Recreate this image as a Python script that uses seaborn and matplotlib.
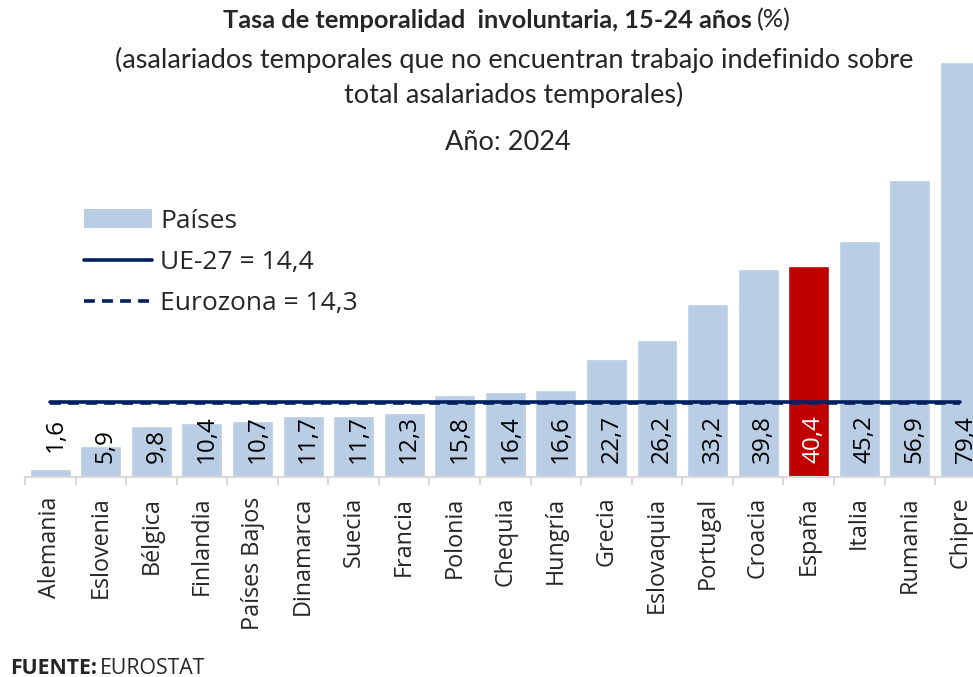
import matplotlib
matplotlib.use('Agg')
import matplotlib.pyplot as plt
from matplotlib.patches import Patch
from matplotlib.lines import Line2D
import seaborn as sns
import pandas as pd

#---------------------------------------------------------
paises=['Alemania', 'Eslovenia', 'Bélgica', 'Finlandia', 'Países Bajos', 'Dinamarca',
	'Suecia', 'Francia', 'Polonia', 'Chequia', 'Hungría', 'Grecia', 'Eslovaquia',
	'Portugal', 'Croacia', 'España', 'Italia', 'Rumania', 'Chipre']
valores=[1.6, 5.9, 9.8, 10.4, 10.7, 11.7, 11.7, 12.3, 15.8, 16.4, 16.6, 22.7, 26.2,
	33.2, 39.8, 40.4, 45.2, 56.9, 79.4]
ue27=14.4
eurozona=14.3
destacado='España'

c_bar='#B9CDE5'
c_esp='#C00000'
c_line='#002060'
c_axis='#D9D9D9'
f_lbl='Open Sans'
f_tit='Lato'

#--------------------------------------------------------
df=pd.DataFrame({'pais': paises, 'valor': valores})
pal={p: (c_esp if p==destacado else c_bar) for p in paises}

sns.set_style('white')
plt.rcParams['font.family']=[f_lbl, 'DejaVu Sans']

fig=plt.figure(figsize=(9.73, 6.77), dpi=100)
ax=fig.add_axes([25/973, 1-477.3/677, 19*50.56/973, 80*5.23/677])

sns.barplot(x='pais', y='valor', hue='pais', data=df, palette=pal, legend=False,
	width=0.81, saturation=1, ax=ax, zorder=2)

#reference lines
xs=list(range(len(paises)))
ax.plot(xs, [ue27]*len(xs), color=c_line, lw=2.6, solid_capstyle='round', zorder=3)
ax.plot(xs, [eurozona]*len(xs), color=c_line, lw=2.6, ls=(0, (3, 2)), zorder=3)

#value labels
for i, v in enumerate(valores):
	y=v+3.2 if v<5 else 2.8
	col='white' if paises[i]==destacado else 'black'
	ax.text(i+0.1, y, f'{v:.1f}'.replace('.', ','), rotation=90, ha='center', va='bottom',
		fontsize=17.5, color=col, family=f_lbl, zorder=4)

#axes
ax.set_xlim(-0.5, len(paises)-0.5)
ax.set_ylim(0, 80)
ax.set_xlabel('')
ax.set_ylabel('')
ax.set_yticks([])
for s in ['top', 'right', 'left']:
	ax.spines[s].set_visible(False)
ax.spines['bottom'].set_color(c_axis)
ax.spines['bottom'].set_linewidth(1.5)
ax.set_xticks(xs)
ax.set_xticklabels(paises, rotation=90, fontsize=16.8, family=f_lbl)
ax.set_xticks([i-0.5 for i in range(len(paises)+1)], minor=True)
ax.tick_params(axis='x', which='major', length=0, pad=14)
ax.tick_params(axis='x', which='minor', length=6, width=1.5, color=c_axis, bottom=True)

#legend
hdl=[Patch(facecolor=c_bar, edgecolor='none'),
	Line2D([], [], color=c_line, lw=2.6),
	Line2D([], [], color=c_line, lw=2.6, ls=(0, (3, 2)))]
lbl=['Países', f'UE-27 = {ue27:.1f}'.replace('.', ','), f'Eurozona = {eurozona:.1f}'.replace('.', ',')]
fig.legend(hdl, lbl, loc='upper left', bbox_to_anchor=(60/973, 1-185/677), frameon=False,
	handlelength=2.6, handleheight=0.7, handletextpad=0.3, labelspacing=0.62,
	prop={'family': f_lbl, 'size': 19})

#titles
fig.text(752/973, 1-20/677, 'Tasa de temporalidad  involuntaria, 15-24 años', ha='right', va='center',
	fontsize=18.3, weight='bold', family=f_tit)
fig.text(757/973, 1-20/677, '(%)', ha='left', va='center', fontsize=18.3, family=f_tit)
fig.text(514/973, 1-60/677, '(asalariados temporales que no encuentran trabajo indefinido sobre',
	ha='center', va='center', fontsize=19.5, family=f_tit)
fig.text(514/973, 1-95/677, 'total asalariados temporales)', ha='center', va='center',
	fontsize=19.5, family=f_tit)
fig.text(508/973, 1-142/677, 'Año: 2024', ha='center', va='center', fontsize=19.5, family=f_tit)

#source
fig.text(10/973, 1-668/677, 'FUENTE:', ha='left', va='center', fontsize=15.3, weight='bold', family=f_lbl)
fig.text(100/973, 1-668/677, 'EUROSTAT', ha='left', va='center', fontsize=15.3, family=f_lbl)

plt.savefig('out.png', dpi=100)
plt.close()
